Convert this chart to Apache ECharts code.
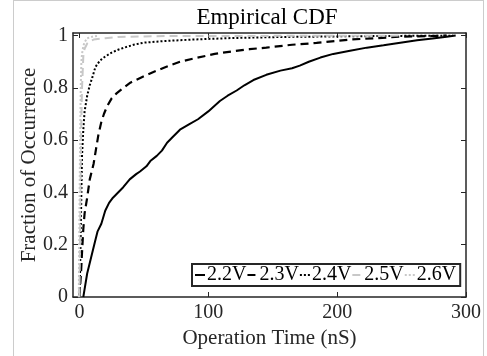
<!DOCTYPE html>
<html>
<head>
<meta charset="utf-8">
<script src="https://cdn.jsdelivr.net/npm/echarts@6/dist/echarts.min.js"></script>
<style>
  html, body { margin: 0; padding: 0; background: #fff; }
  #chart { width: 487px; height: 356px; }
</style>
</head>
<body>
<div id="chart"></div>
<script>
// Empirical CDFs of operation time for five supply voltages
const seriesNames = ['2.2V', '2.3V', '2.4V', '2.5V', '2.6V'];

const time22 = [3, 4, 6, 9, 12, 14, 17, 20, 23, 26, 30, 34, 39, 44, 47, 52, 55, 60, 64, 68, 72, 78, 85, 92, 100, 109, 115, 122, 128, 135, 145, 156, 165, 171, 178, 187, 197, 210, 223, 236, 249, 262, 274, 285, 292];
const frac22 = [0, 0.03, 0.09, 0.15, 0.21, 0.25, 0.28, 0.33, 0.36, 0.38, 0.40, 0.42, 0.45, 0.47, 0.48, 0.50, 0.52, 0.54, 0.56, 0.59, 0.61, 0.64, 0.66, 0.68, 0.71, 0.75, 0.77, 0.79, 0.81, 0.83, 0.85, 0.866, 0.875, 0.885, 0.90, 0.916, 0.93, 0.942, 0.954, 0.963, 0.973, 0.982, 0.989, 0.996, 1.0];

const time23 = [0, 0.5, 1.3, 2, 3, 4, 6, 8, 11, 13, 14.7, 17, 19, 21.5, 25, 29, 34, 39.5, 48, 57, 67, 78, 91, 105, 119, 132, 145, 165, 184, 210, 230, 249, 270, 285];
const frac23 = [0, 0.04, 0.1, 0.17, 0.26, 0.32, 0.38, 0.45, 0.51, 0.57, 0.62, 0.67, 0.70, 0.73, 0.76, 0.78, 0.80, 0.82, 0.84, 0.86, 0.88, 0.90, 0.915, 0.93, 0.94, 0.948, 0.954, 0.965, 0.972, 0.985, 0.99, 0.996, 0.998, 1.0];

const time24 = [0, 0.5, 1, 1.5, 2, 3, 4, 6, 8, 10, 12.4, 16, 20, 25, 30, 36, 42, 50, 65, 88, 120, 160, 200, 250, 290];
const frac24 = [0, 0.1, 0.25, 0.4, 0.54, 0.64, 0.71, 0.77, 0.81, 0.84, 0.88, 0.905, 0.92, 0.935, 0.946, 0.956, 0.965, 0.973, 0.979, 0.985, 0.991, 0.995, 0.997, 0.999, 1.0];

const time25 = [0, 0.5, 1, 1.5, 2, 3, 4, 6, 8, 11, 20, 30, 60, 150, 250];
const frac25 = [0, 0.25, 0.5, 0.68, 0.8, 0.92, 0.95, 0.97, 0.978, 0.985, 0.99, 0.995, 0.998, 0.999, 1.0];

const time26 = [-0.5, 0, 0.5, 1, 1.5, 2, 3, 4, 6, 10, 15];
const frac26 = [0, 0.3, 0.6, 0.8, 0.9, 0.93, 0.96, 0.975, 0.99, 0.996, 1.0];

const xTicks = [0, 100, 200, 300];
const yTicks = [0, 0.2, 0.4, 0.6, 0.8, 1];

const pairs = (xs, ys) => xs.map((x, i) => [x, ys[i]]);

const FONT = '"Liberation Serif", "DejaVu Serif", serif';
const INK = '#262626';

const styles = [
  { color: '#000000', width: 2, type: 'solid' },
  { color: '#000000', width: 2.2, type: [8, 5] },
  { color: '#000000', width: 2, type: [2, 2] },
  { color: '#c8c8c8', width: 2, type: [8, 5] },
  { color: '#c8c8c8', width: 2, type: [2, 2] }
];
const dataSets = [
  pairs(time22, frac22),
  pairs(time23, frac23),
  pairs(time24, frac24),
  pairs(time25, frac25),
  pairs(time26, frac26)
];

const chart = echarts.init(document.getElementById('chart'), null, { renderer: 'canvas' });

const baseX = {
  type: 'value', min: -5, max: 300,
  axisLine: { show: true, onZero: false, lineStyle: { color: INK, width: 1.5 } },
  axisTick: { show: true, inside: true, length: 5, customValues: xTicks, lineStyle: { color: INK, width: 1 } },
  splitLine: { show: false }
};
const baseY = {
  type: 'value', min: 0, max: 1.01,
  axisLine: { show: true, onZero: false, lineStyle: { color: INK, width: 1.5 } },
  axisTick: { show: true, inside: true, length: 5, customValues: yTicks, lineStyle: { color: INK, width: 1 } },
  splitLine: { show: false }
};

chart.setOption({
  animation: false,
  backgroundColor: '#ffffff',
  title: {
    text: 'Empirical CDF',
    left: 262, top: 1, textAlign: 'center',
    textStyle: { fontFamily: FONT, fontSize: 23, fontWeight: 'normal', color: '#000' }
  },
  grid: { left: 73, right: 21, top: 33, bottom: 59 },
  legend: {
    data: seriesNames,
    left: 192, top: 264,
    orient: 'horizontal',
    itemWidth: 10, itemHeight: 12, itemGap: 0,
    itemStyle: { opacity: 0 },
    padding: [1, 4, 1, 2],
    borderColor: INK, borderWidth: 2,
    backgroundColor: '#ffffff',
    textStyle: { fontFamily: FONT, fontSize: 20, color: '#000', padding: [0, 0, 0, -3] }
  },
  xAxis: [
    Object.assign({}, baseX, {
      position: 'bottom',
      name: 'Operation Time (nS)', nameLocation: 'middle', nameGap: 31, nameMoveOverlap: false,
      nameTextStyle: { fontFamily: FONT, fontSize: 21, color: INK },
      axisLabel: { show: true, customValues: xTicks, margin: 6, fontFamily: FONT, fontSize: 20, color: INK }
    }),
    Object.assign({}, baseX, { position: 'top', axisLabel: { show: false } })
  ],
  yAxis: [
    Object.assign({}, baseY, {
      position: 'left',
      name: 'Fraction of Occurrence', nameLocation: 'middle', nameGap: 33, nameRotate: 90, nameMoveOverlap: false,
      nameTextStyle: { fontFamily: FONT, fontSize: 21, color: INK },
      axisLabel: {
        show: true, customValues: yTicks, margin: 5, fontFamily: FONT, fontSize: 20, color: INK,
        formatter: v => String(+v.toFixed(2))
      }
    }),
    Object.assign({}, baseY, { position: 'right', axisLabel: { show: false } })
  ],
  graphic: [
    { type: 'line', shape: { x1: 13.5, y1: 0.5, x2: 483.5, y2: 0.5 }, style: { stroke: '#cccccc', lineWidth: 1 }, silent: true },
    { type: 'line', shape: { x1: 13.5, y1: 0, x2: 13.5, y2: 356 }, style: { stroke: '#cccccc', lineWidth: 1 }, silent: true },
    { type: 'line', shape: { x1: 483.5, y1: 0, x2: 483.5, y2: 356 }, style: { stroke: '#cccccc', lineWidth: 1 }, silent: true }
  ],
  series: seriesNames.map((name, i) => ({
    name,
    type: 'line',
    xAxisIndex: 0, yAxisIndex: 0,
    data: dataSets[i],
    symbol: 'none',
    showSymbol: false,
    smooth: false,
    clip: true,
    itemStyle: { color: styles[i].color },
    lineStyle: { color: styles[i].color, width: styles[i].width, type: styles[i].type }
  }))
});
</script>
</body>
</html>
